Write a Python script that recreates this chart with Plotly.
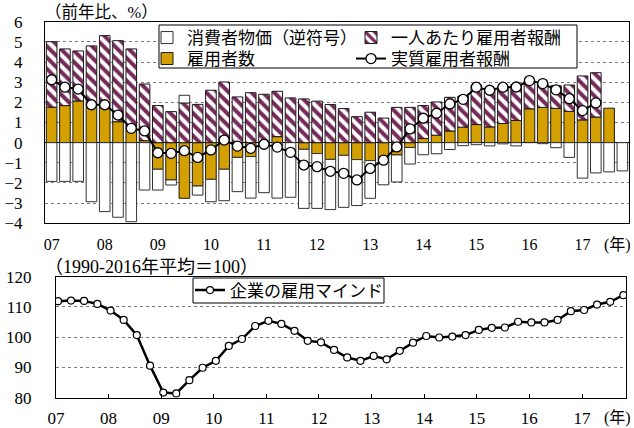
import plotly.graph_objects as go

# ---- data -------------------------------------------------------------
quarters = [f"{y}Q{q}" for y in range(2007, 2018) for q in range(1, 5)]
year_labels = ["07", "08", "09", "10", "11", "12", "13", "14", "15", "16", "17"]

# year-on-year contributions, %
cpi_inverted = [-1.92, -1.92, -1.92, -2.93, -3.42, -3.70, -3.92, -2.35,
                -1.03, -0.25, 0.38, -0.45, -1.11, -1.56, -1.70, -2.06,
                -2.48, -2.75, -2.71, -2.93, -2.72, -2.49, -2.58, -2.28,
                -1.87, -1.38, -1.34, -0.82, -0.60, -0.55, -0.34, -0.15,
                -0.10, -0.16, -0.06, -0.16, 0.00, -0.05, -0.25, -0.73,
                -1.76, -1.50, -1.45, -1.40]
employees = [1.76, 1.84, 2.07, 1.79, 1.78, 1.04, 0.63, 0.10,
             -1.32, -1.85, -2.76, -2.15, -1.82, -1.32, -0.73, -0.69,
             0.00, 0.30, 0.00, -0.33, -0.54, -0.83, -0.63, -0.84,
             -0.89, -0.71, -0.61, -0.24, 0.21, 0.37, 0.58, 0.77,
             0.90, 0.78, 0.95, 1.10, 1.68, 1.75, 1.70, 1.55,
             1.13, 1.27, 1.71]
pay_per_employee = [3.25, 2.81, 2.48, 3.01, 3.53, 4.02, 4.02, 2.81,
                    1.84, 1.54, 1.97, 1.90, 2.60, 3.01, 2.27, 2.48,
                    2.40, 2.25, 2.22, 2.17, 2.06, 1.89, 1.69, 1.29,
                    1.51, 1.22, 1.75, 1.75, 1.63, 1.65, 1.67, 1.53,
                    1.95, 1.92, 1.83, 1.78, 1.40, 1.18, 1.12, 1.31,
                    2.18, 2.20]
real_compensation = [3.12, 2.75, 2.66, 1.88, 1.88, 1.37, 0.71, 0.58,
                     -0.50, -0.53, -0.40, -0.73, -0.36, 0.13, -0.17, -0.28,
                     -0.08, -0.22, -0.48, -1.11, -1.19, -1.42, -1.52, -1.85,
                     -1.28, -0.87, -0.21, 0.68, 1.21, 1.46, 1.92, 2.15,
                     2.75, 2.60, 2.75, 2.76, 3.08, 2.93, 2.62, 2.18,
                     1.59, 1.97]

# employment sentiment index (1990-2016 average = 100)
mind_dates = [f"{y}-{m:02d}-15" for y in range(2007, 2018) for m in (1, 4, 7, 10)]
employment_mind = [111.9, 112.1, 112.0, 111.0, 108.8, 105.7, 100.7, 90.6,
                   81.7, 81.4, 85.8, 89.9, 92.2, 97.1, 99.4, 103.7,
                   105.4, 104.4, 102.1, 98.8, 98.3, 95.8, 93.3, 92.2,
                   93.8, 92.7, 95.5, 98.2, 100.4, 99.9, 100.2, 100.7,
                   102.4, 103.1, 103.2, 105.1, 104.9, 104.9, 105.7, 108.6,
                   109.0, 110.8, 111.7, 113.9]

# ---- styling ----------------------------------------------------------
W, H = 634, 428
NUM_FONT = "Liberation Serif, Noto Sans CJK JP"
JP_FONT = "Liberation Serif, Noto Sans CJK JP"
ORANGE = "#D49F00"
MAROON = "#762A5A"
GRID = "#7a7a7a"


def px_x(v):
    return v / W


def px_y(v):
    return 1 - v / H


TOP_X = [px_x(45), px_x(629)]
TOP_Y = [px_y(223.3), px_y(21.7)]
BOT_X = [px_x(56), px_x(626)]
BOT_Y = [px_y(397.7), px_y(276.7)]

Y_MIN, Y_MAX = -4, 6
zero_pos = TOP_Y[0] + (0 - Y_MIN) / (Y_MAX - Y_MIN) * (TOP_Y[1] - TOP_Y[0])
n_q = len(quarters)
year_edges = [4 * i - 0.5 for i in range(1, len(year_labels))]

fig = go.Figure()

fig.add_trace(go.Bar(
    x=quarters[:len(employees)], y=employees, name="雇用者数",
    marker=dict(color=ORANGE, line=dict(color="#1a1a1a", width=1)),
    legend="legend4"))
fig.add_trace(go.Bar(
    x=quarters[:len(pay_per_employee)], y=pay_per_employee, name="一人あたり雇用者報酬",
    marker=dict(color="white", line=dict(color="#1a1a1a", width=1),
                pattern=dict(shape="\\", fgcolor=MAROON, bgcolor="white",
                             size=8, solidity=0.5)),
    legend="legend3"))
fig.add_trace(go.Bar(
    x=quarters[:len(cpi_inverted)], y=cpi_inverted, name="消費者物価（逆符号）",
    marker=dict(color="white", line=dict(color="#333333", width=1)),
    legend="legend"))
fig.add_trace(go.Scatter(
    x=quarters[:len(real_compensation)], y=real_compensation, name="実質雇用者報酬",
    mode="lines+markers",
    line=dict(color="black", width=2),
    marker=dict(symbol="circle", size=10, color="white",
                line=dict(color="black", width=1.3)),
    legend="legend5"))

fig.add_trace(go.Scatter(
    x=mind_dates, y=employment_mind, name="企業の雇用マインド",
    xaxis="x2", yaxis="y2", mode="lines+markers",
    line=dict(color="black", width=2.5),
    marker=dict(symbol="circle", size=7, color="white",
                line=dict(color="black", width=1.2)),
    legend="legend2"))

x_font = dict(family=NUM_FONT, size=16, color="black")
y_font = dict(family=NUM_FONT, size=17, color="black")
legend_font = dict(family=JP_FONT, size=17, color="black")


def legend_at(x_px, y_px):
    return dict(x=px_x(x_px), y=px_y(y_px), xanchor="left", yanchor="middle",
                bgcolor="rgba(0,0,0,0)", borderwidth=0, font=legend_font)


fig.update_layout(
    template="none",
    width=W, height=H,
    margin=dict(l=0, r=0, t=0, b=0, autoexpand=False),
    font=dict(family=NUM_FONT, color="black"),
    paper_bgcolor="white", plot_bgcolor="white",
    barmode="relative", bargap=0.2,
    showlegend=True,
    xaxis=dict(domain=TOP_X, anchor="y", type="category", automargin=False,
               categoryorder="array", categoryarray=quarters,
               range=[-0.5, n_q - 0.5],
               tickmode="array", tickvals=quarters[::4], ticktext=year_labels,
               ticks="", showline=True, mirror=True, linecolor="black", linewidth=1,
               showgrid=False, zeroline=False, tickfont=x_font, ticklabelstandoff=6),
    xaxis3=dict(overlaying="x", anchor="free", position=zero_pos, side="bottom",
                automargin=False,
                range=[-0.5, n_q - 0.5], tickmode="array", tickvals=year_edges,
                ticks="outside", ticklen=4, tickcolor="#333", tickwidth=1,
                showticklabels=False, showline=False, showgrid=False, zeroline=False),
    xaxis4=dict(overlaying="x", anchor="free", position=zero_pos, side="top",
                automargin=False,
                range=[-0.5, n_q - 0.5], tickmode="array", tickvals=year_edges,
                ticks="outside", ticklen=4, tickcolor="#333", tickwidth=1,
                showticklabels=False, showline=False, showgrid=False, zeroline=False),
    yaxis=dict(domain=TOP_Y, anchor="x", range=[Y_MIN, Y_MAX], dtick=1,
               automargin=False,
               showgrid=True, gridcolor=GRID, griddash="dot", gridwidth=1,
               zeroline=True, zerolinecolor="black", zerolinewidth=1,
               showline=True, mirror=True, linecolor="black", linewidth=1,
               ticks="", tickfont=y_font, ticklabelstandoff=18),
    xaxis2=dict(domain=BOT_X, anchor="y2", type="date", automargin=False,
                range=["2007-01-01", "2017-11-02"],
                tickmode="array",
                tickvals=[f"{2000 + int(t)}-01-01" for t in year_labels],
                ticktext=year_labels,
                ticks="inside", ticklen=4, tickcolor="black",
                showline=True, mirror=True, linecolor="black", linewidth=1,
                showgrid=False, zeroline=False,
                tickfont=dict(family=NUM_FONT, size=17, color="black"),
                ticklabelstandoff=5),
    yaxis2=dict(domain=BOT_Y, anchor="x2", range=[80, 120], dtick=10,
                automargin=False,
                showgrid=True, gridcolor=GRID, griddash="dot", gridwidth=1,
                zeroline=False,
                showline=True, mirror=True, linecolor="black", linewidth=1,
                ticks="", tickfont=y_font, ticklabelstandoff=20),
    legend=legend_at(147, 38),
    legend4=legend_at(147, 59),
    legend3=legend_at(351, 38),
    legend5=legend_at(351, 59),
    legend2=legend_at(190, 290.5),
    shapes=[dict(type="rect", xref="paper", yref="paper",
                 x0=px_x(159), x1=px_x(577), y0=px_y(68), y1=px_y(25),
                 fillcolor="white", line=dict(color="black", width=1),
                 layer="above"),
            dict(type="rect", xref="paper", yref="paper",
                 x0=px_x(193), x1=px_x(384), y0=px_y(303), y1=px_y(278),
                 fillcolor="white", line=dict(color="black", width=1),
                 layer="above")],
    annotations=[
        dict(text="（前年比、%）", xref="paper", yref="paper",
             x=px_x(43), y=px_y(12), xanchor="left", yanchor="middle",
             showarrow=False, font=dict(family=JP_FONT, size=16.5, color="black")),
        dict(text="(年)", xref="paper", yref="paper",
             x=px_x(633), y=px_y(245), xanchor="right", yanchor="middle",
             showarrow=False, font=dict(family=JP_FONT, size=16, color="black")),
        dict(text="（1990-2016年平均＝100）", xref="paper", yref="paper",
             x=px_x(43), y=px_y(267), xanchor="left", yanchor="middle",
             showarrow=False, font=dict(family=JP_FONT, size=18, color="black")),
        dict(text="(年)", xref="paper", yref="paper",
             x=px_x(633), y=px_y(418), xanchor="right", yanchor="middle",
             showarrow=False, font=dict(family=JP_FONT, size=16, color="black")),
    ],
)

fig.write_html("out.html")
